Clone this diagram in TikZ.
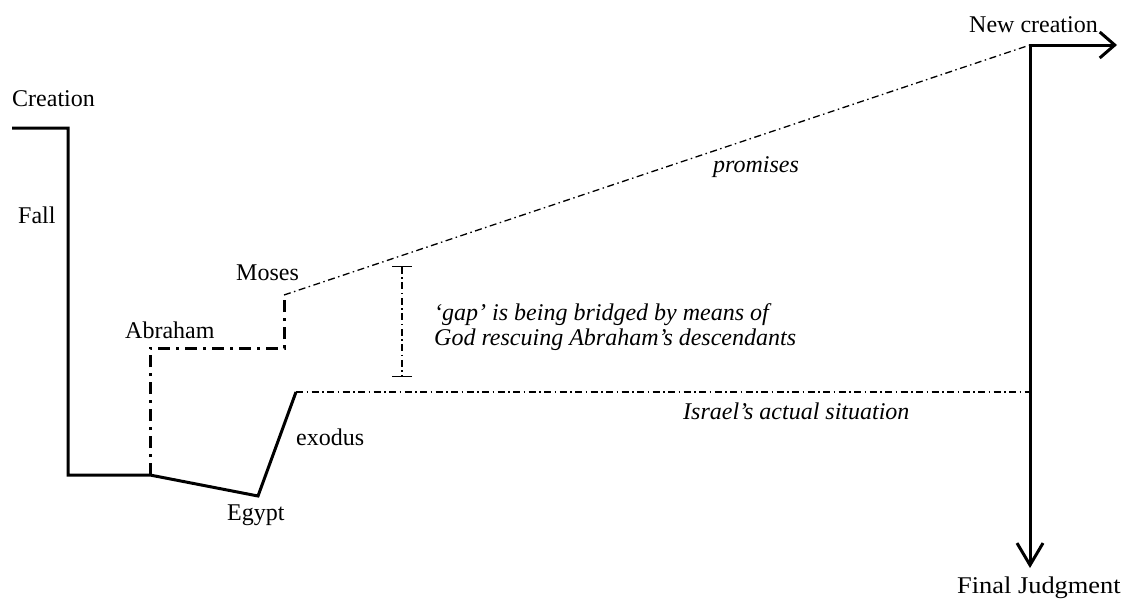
\documentclass[tikz,border=0pt]{standalone}
\usepackage{fontspec}
\setmainfont{Liberation Serif}
\newfontfamily\widefont[FakeStretch=1.1]{Liberation Serif}
\usetikzlibrary{arrows.meta}
\begin{document}
\begin{tikzpicture}[x=1pt,y=-1pt,
  lbl/.style={font=\fontsize{24}{24}\selectfont, inner sep=0pt},
  ilbl/.style={font=\fontsize{24}{24.5}\selectfont\itshape, inner sep=0pt},
  thickline/.style={line width=3pt, line join=miter},
  thickdd/.style={line width=3pt, dash pattern=on 12pt off 6pt on 3pt off 6pt},
  thindd/.style={line width=1.3pt, dash pattern=on 7pt off 3.5pt on 1.5pt off 3.5pt},
  gapbar/.style={line width=1.2pt, dash pattern=on 7pt off 3.5pt on 1.5pt off 3.5pt, {Bar[width=20pt]}-{Bar[width=20pt]}}
]
\useasboundingbox (0,0) rectangle (1123,600);

\coordinate (c0) at (12,128);
\coordinate (c1) at (68,128);
\coordinate (fallb) at (68,475);
\coordinate (ab0) at (150,475);
\coordinate (ab1) at (150,348);
\coordinate (mo0) at (284,348);
\coordinate (mo1) at (284,295);
\coordinate (eg) at (258,496);
\coordinate (ex) at (296,392);
\coordinate (nc) at (1030,45);
\coordinate (isr) at (1030,392);
\coordinate (ncTip) at (1117,45);
\coordinate (fjTip) at (1030,568);
\coordinate (g0) at (402,266);
\coordinate (g1) at (402,377);

\draw[thickline] (c0) -- (c1) -- (fallb) -- (ab0) -- (eg) -- (ex);
\draw[thickdd] (ab0) -- (ab1) -- (mo0) -- (mo1);
\draw[thindd] (mo1) -- (nc);
\draw[thindd] (ex) -- (isr);
\draw[thickline, {Straight Barb[length=15pt,width=26pt]}-{Straight Barb[length=22pt,width=26pt]}] (ncTip) -- (nc) -- (fjTip);
\draw[gapbar] (g0) -- (g1);

\node[lbl, anchor=base west] (creation) at (12,106) {Creation};
\node[lbl, anchor=base west] (fall) at (18,223) {Fall};
\node[lbl, anchor=base west] (moses) at (236,280) {Moses};
\node[lbl, anchor=base west] (abraham) at (125,338) {Abraham};
\node[lbl, anchor=base west] (exodus) at (296,445) {exodus};
\node[lbl, anchor=base west] (egypt) at (227,520) {Egypt};
\node[lbl, anchor=base west] (newcr) at (969,32) {New creation};
\node[lbl, anchor=base west, font=\fontsize{24}{24}\widefont] (final) at (957,593) {Final Judgment};
\node[ilbl, anchor=base west] (promises) at (713,172) {promises};
\node[ilbl, anchor=base west] (israel) at (683,419) {Israel’s actual situation};
\node[ilbl, anchor=base west, align=left] (gap) at (434,345) {‘gap’ is being bridged by means of\\God rescuing Abraham’s descendants};
\end{tikzpicture}
\end{document}
